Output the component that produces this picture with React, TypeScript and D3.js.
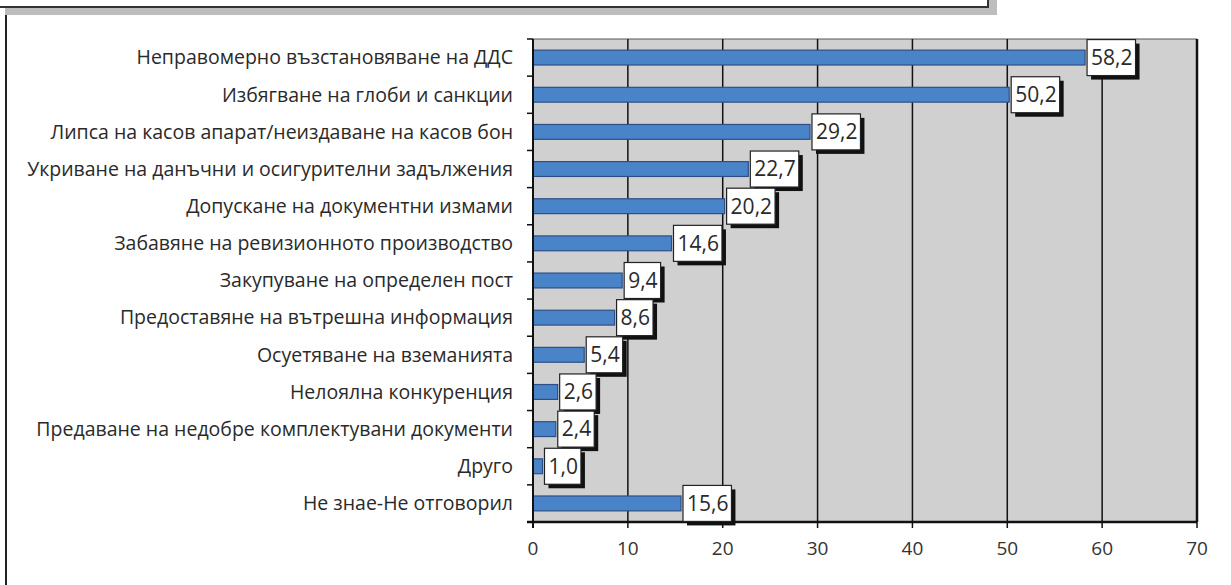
import React, { useEffect, useRef } from 'react';
import * as d3 from 'd3';

const categories = [
  'Неправомерно възстановяване на ДДС',
  'Избягване на глоби и санкции',
  'Липса на касов апарат/неиздаване на касов бон',
  'Укриване на данъчни и осигурителни задължения',
  'Допускане на документни измами',
  'Забавяне на ревизионното производство',
  'Закупуване на определен пост',
  'Предоставяне на вътрешна информация',
  'Осуетяване на вземанията',
  'Нелоялна конкуренция',
  'Предаване на недобре комплектувани документи',
  'Друго',
  'Не знае-Не отговорил',
];
const values = [58.2, 50.2, 29.2, 22.7, 20.2, 14.6, 9.4, 8.6, 5.4, 2.6, 2.4, 1.0, 15.6];
const xTicks = [0, 10, 20, 30, 40, 50, 60, 70];

const FONT = "'Open Sans', 'Noto Sans', sans-serif";

const App = () => {
  const svgRef = useRef<SVGSVGElement>(null);

  useEffect(() => {
    const svg = d3.select(svgRef.current);
    svg.selectAll('*').remove();

    const W = 1231;
    const H = 585;
    const left = 533;
    const right = 1197;
    const top = 39;
    const bottom = 522;

    // frame decorations
    svg.append('rect').attr('x', 5).attr('y', 8).attr('width', 992).attr('height', 7).attr('fill', '#bdbdbd');
    svg.append('rect').attr('x', 988).attr('y', 0).attr('width', 9).attr('height', 15).attr('fill', '#bdbdbd');
    svg.append('line').attr('x1', 0).attr('x2', 988).attr('y1', 7).attr('y2', 7).attr('stroke', '#333').attr('stroke-width', 2);
    svg.append('line').attr('x1', 988).attr('x2', 988).attr('y1', 0).attr('y2', 8).attr('stroke', '#333').attr('stroke-width', 2);
    svg.append('line').attr('x1', 6).attr('x2', 6).attr('y1', 15).attr('y2', H).attr('stroke', '#222').attr('stroke-width', 2);

    const x = d3.scaleLinear().domain([0, 70]).range([left, right]);
    const y = d3.scaleBand().domain(categories).range([top, bottom]).paddingInner(0.6).paddingOuter(0.3);
    const band = d3.scaleBand().domain(categories).range([top, bottom]);

    // plot background
    svg.append('rect')
      .attr('x', left).attr('y', top)
      .attr('width', right - left).attr('height', bottom - top)
      .attr('fill', '#d0d0d0');
    svg.append('line').attr('x1', left).attr('x2', right).attr('y1', top).attr('y2', top)
      .attr('stroke', '#555').attr('stroke-width', 1);

    // vertical grid
    svg.selectAll('.grid')
      .data(xTicks.slice(1))
      .enter()
      .append('line')
      .attr('x1', d => x(d)).attr('x2', d => x(d))
      .attr('y1', top).attr('y2', bottom)
      .attr('stroke', '#111')
      .attr('stroke-width', d => (d === 70 ? 2.5 : 1.5));

    // bars
    svg.selectAll('.bar')
      .data(values)
      .enter()
      .append('rect')
      .attr('x', x(0))
      .attr('y', (d, i) => y(categories[i])!)
      .attr('width', d => x(d) - x(0))
      .attr('height', y.bandwidth())
      .attr('fill', '#4a84c8')
      .attr('stroke', '#2d4f86')
      .attr('stroke-width', 1.2);

    // axes lines
    svg.append('line').attr('x1', left).attr('x2', left).attr('y1', top).attr('y2', bottom + 6)
      .attr('stroke', '#111').attr('stroke-width', 2);
    svg.append('line').attr('x1', left - 6).attr('x2', right).attr('y1', bottom).attr('y2', bottom)
      .attr('stroke', '#111').attr('stroke-width', 2.5);

    // y ticks at band boundaries
    const bounds = categories.map(c => band(c)!).concat([bottom]);
    svg.selectAll('.ytick')
      .data(bounds)
      .enter()
      .append('line')
      .attr('x1', left - 6).attr('x2', left)
      .attr('y1', d => d).attr('y2', d => d)
      .attr('stroke', '#111').attr('stroke-width', 1.5);

    // x ticks
    svg.selectAll('.xtick')
      .data(xTicks)
      .enter()
      .append('line')
      .attr('x1', d => x(d)).attr('x2', d => x(d))
      .attr('y1', bottom).attr('y2', bottom + 6)
      .attr('stroke', '#111').attr('stroke-width', 1.5);

    svg.selectAll('.xlabel')
      .data(xTicks)
      .enter()
      .append('text')
      .attr('x', d => x(d))
      .attr('y', bottom + 33)
      .attr('text-anchor', 'middle')
      .attr('font-family', FONT)
      .attr('font-size', 19)
      .attr('fill', '#333')
      .text(d => d);

    // category labels
    svg.selectAll('.cat')
      .data(categories)
      .enter()
      .append('text')
      .attr('x', left - 20)
      .attr('y', d => band(d)! + band.bandwidth() / 2)
      .attr('dy', '0.35em')
      .attr('text-anchor', 'end')
      .attr('font-family', FONT)
      .attr('font-size', 19.5)
      .attr('fill', '#2a2a2a')
      .text(d => d);

    // value labels with shadowed boxes
    const labels = svg.selectAll('.vlabel')
      .data(values)
      .enter()
      .append('g')
      .attr('transform', (d, i) => `translate(${x(d) + 2},${band(categories[i])! + band.bandwidth() / 2})`);

    labels.each(function (d) {
      const g = d3.select(this);
      const txt = d.toFixed(1).replace('.', ',');
      const t = g.append('text')
        .attr('x', 4)
        .attr('y', 0)
        .attr('dy', '0.35em')
        .attr('font-family', FONT)
        .attr('font-size', 21)
        .attr('fill', '#2a2a2a')
        .text(txt);
      const w = (t.node() as SVGTextElement).getComputedTextLength() + 7;
      const h = 36;
      g.insert('rect', 'text')
        .attr('x', 4).attr('y', -h / 2 + 4)
        .attr('width', w).attr('height', h)
        .attr('fill', '#111');
      g.insert('rect', 'text')
        .attr('x', 0).attr('y', -h / 2)
        .attr('width', w).attr('height', h)
        .attr('fill', '#fff')
        .attr('stroke', '#222')
        .attr('stroke-width', 1.2);
    });

    svg.attr('width', W).attr('height', H);
  }, []);

  return (
    <svg
      ref={svgRef}
      width={1231}
      height={585}
      style={{ position: 'absolute', left: 0, top: 0, background: '#fff' }}
    />
  );
};

export default App;
